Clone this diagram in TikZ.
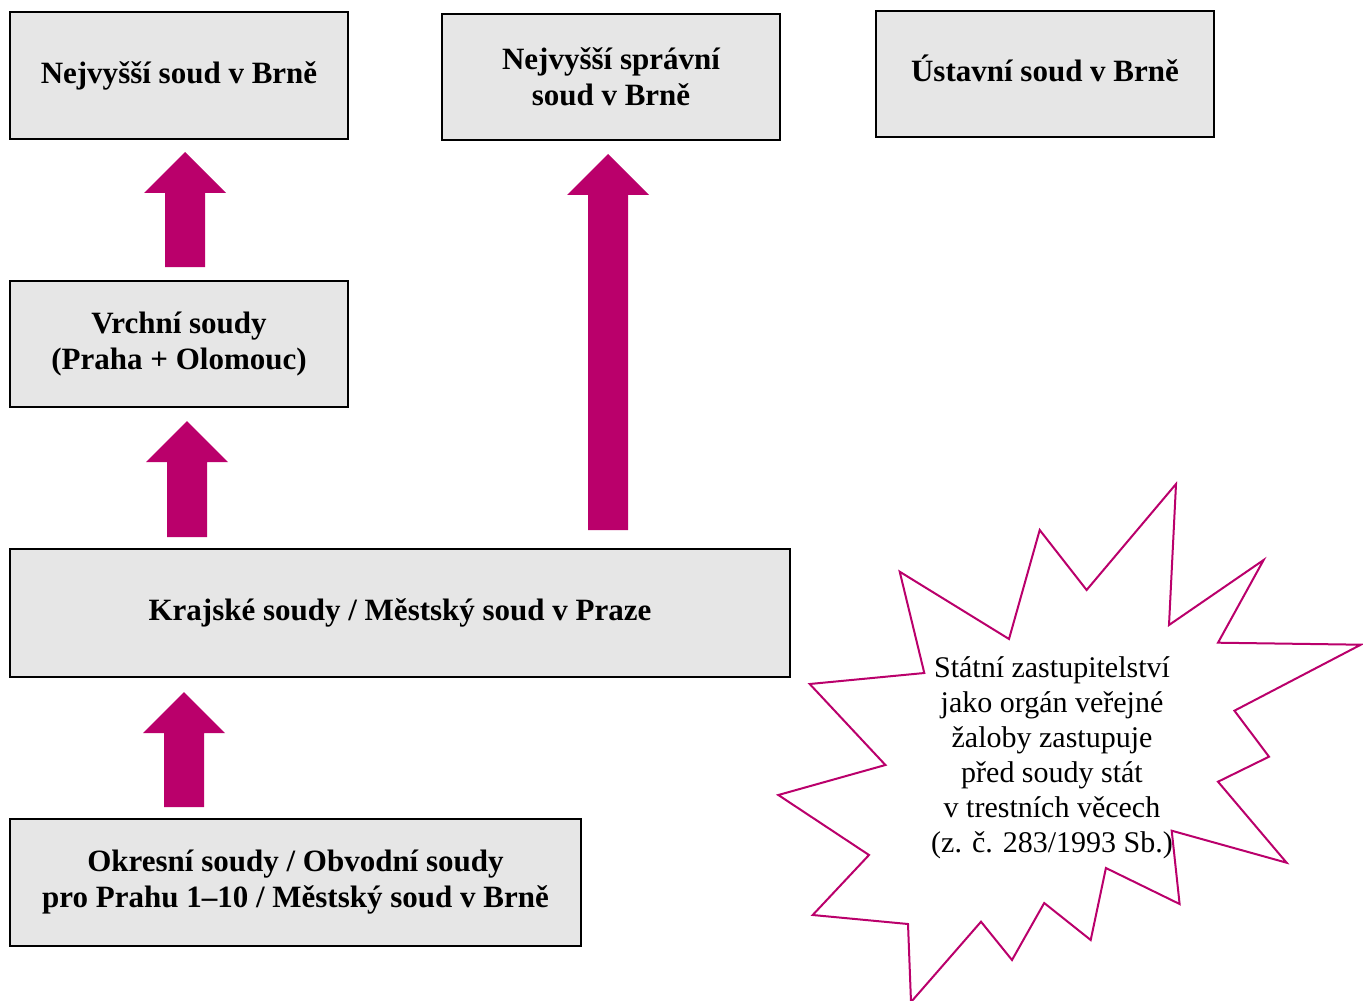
\documentclass[tikz,border=0pt]{standalone}
\usepackage{fontspec}
\setmainfont{Liberation Serif}
\usetikzlibrary{calc}
\definecolor{mag}{RGB}{186,0,107}
\definecolor{boxgray}{RGB}{230,230,230}
\tikzset{
  court/.style={draw=black, line width=1pt, fill=boxgray, inner sep=0pt, align=center,
    font=\fontsize{15.5}{18}\selectfont\bfseries},
  arrowc/.style={fill=mag},
  burst/.style={draw=mag, line width=1pt, line join=miter},
  bursttext/.style={align=center, inner sep=0pt, font=\fontsize{15}{17.5}\selectfont}
}
\newcommand{\uparrowblock}[2]{%
  \fill[arrowc] let \p1=(#1), \p2=(#2) in
    (\x1-10pt,\y1) -- (\x1-10pt,\y2-20.5pt) -- (\x1-20.5pt,\y2-20.5pt) -- (\x1,\y2)
    -- (\x1+20.5pt,\y2-20.5pt) -- (\x1+10pt,\y2-20.5pt) -- (\x1+10pt,\y1) -- cycle;}
\begin{document}
\begin{tikzpicture}[x=0.5pt,y=-0.5pt]
\useasboundingbox (0,0) rectangle (1363,1000);
\clip (0,0) rectangle (1363,1000);
\node[court, minimum width=169pt, minimum height=63.5pt] (b1) at (179,75.5) {Nejvyšší soud v Brně};
\node[court, minimum width=169pt, minimum height=63pt] (b2) at (611,77) {Nejvyšší správní\\soud v Brně};
\node[court, minimum width=169pt, minimum height=63pt] (b3) at (1045,74) {\raisebox{6pt}{Ústavní soud v Brně}};
\node[court, minimum width=169pt, minimum height=63pt] (b4) at (179,344) {Vrchní soudy\\(Praha + Olomouc)};
\node[court, minimum width=390pt, minimum height=64pt] (b5) at (400,613) {Krajské soudy / Městský soud v Praze};
\node[court, minimum width=285.5pt, minimum height=63.5pt] (b6) at (295.5,882.5) {Okresní soudy / Obvodní soudy\\pro Prahu 1–10 / Městský soud v Brně};
% arrows
\coordinate (a1s) at ($(b4.north)+(6,-13)$);
\coordinate (a1e) at ($(b1.south)+(6,12)$);
\coordinate (a2s) at ($(b4.south |- b5.north)+(8,-11)$);
\coordinate (a2e) at ($(b4.south)+(8,13)$);
\coordinate (a3s) at ($(b2.south |- b5.north)+(-3,-18)$);
\coordinate (a3e) at ($(b2.south)+(-3,13)$);
\coordinate (a4s) at ($(b6.north west)+(175,-11)$);
\coordinate (a4e) at ($(b5.south west)+(175,14)$);
\uparrowblock{a1s}{a1e}
\uparrowblock{a2s}{a2e}
\uparrowblock{a3s}{a3e}
\uparrowblock{a4s}{a4e}
% starburst
\draw[burst] (1176,484) -- (1169,625) -- (1263.6,560) -- (1218,642.7) -- (1360.8,644.7)
  -- (1234.4,710.7) -- (1269,756.7) -- (1218,781.7) -- (1286.6,862.7) -- (1171.7,830.7)
  -- (1179.6,904) -- (1105.9,868) -- (1090.7,940) -- (1044.2,903) -- (1012,960)
  -- (981,921.7) -- (911,1002) -- (908,924) -- (812.7,915) -- (869,855) -- (778.3,795)
  -- (885.4,765) -- (809.7,684) -- (924.3,673) -- (899.7,571.7) -- (1009,639)
  -- (1039.7,530) -- (1086.6,590) -- cycle;
\node[bursttext] (sz) at (1052,758) {Státní zastupitelství\\jako orgán veřejné\\žaloby zastupuje\\před soudy stát\\v trestních věcech\\(z. č. 283/1993 Sb.)};
\end{tikzpicture}
\end{document}
